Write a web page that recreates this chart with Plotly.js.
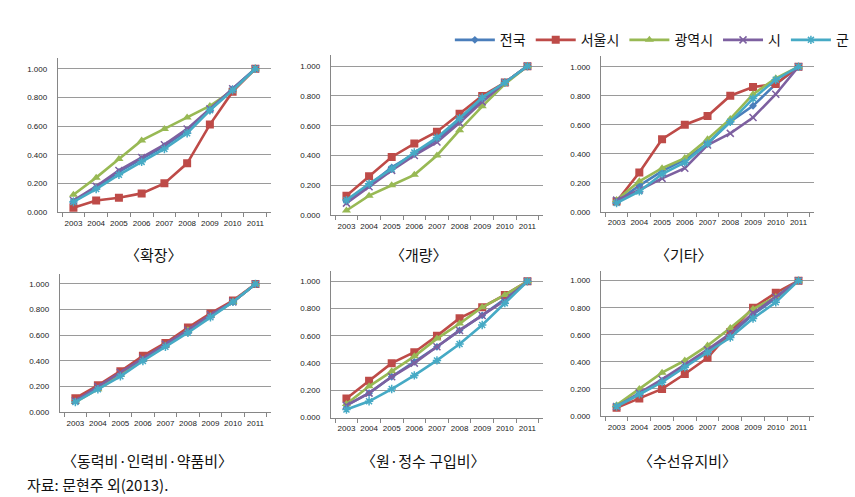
<!DOCTYPE html>
<html>
<head>
<meta charset="utf-8">
<script src="https://cdn.plot.ly/plotly-3.0.1.min.js"></script>
<style>html,body{margin:0;padding:0;background:#fff;}#chart{width:855px;height:497px;}</style>
</head>
<body>
<div id="chart"></div>
<script>
// ---- DATA ----
const years = ['2003','2004','2005','2006','2007','2008','2009','2010','2011'];
const seriesNames = ['전국','서울시','광역시','시','군'];
const panelTitles = ['〈확장〉','〈개량〉','〈기타〉','〈동력비·인력비·약품비〉','〈원·정수 구입비〉','〈수선유지비〉'];
const yTicks = [0, 0.2, 0.4, 0.6, 0.8, 1.0];

// each panel: rows in order of seriesNames (전국, 서울시, 광역시, 시, 군)
const expansion = [
  [0.075, 0.17, 0.28, 0.37, 0.46, 0.57, 0.71, 0.86, 1.0],
  [0.03, 0.08, 0.10, 0.13, 0.20, 0.34, 0.61, 0.84, 1.0],
  [0.12, 0.24, 0.37, 0.50, 0.58, 0.66, 0.74, 0.85, 1.0],
  [0.08, 0.18, 0.29, 0.38, 0.47, 0.58, 0.72, 0.86, 1.0],
  [0.07, 0.16, 0.26, 0.35, 0.44, 0.55, 0.71, 0.85, 1.0]
];
const improvement = [
  [0.09, 0.20, 0.32, 0.41, 0.51, 0.63, 0.78, 0.89, 1.0],
  [0.13, 0.26, 0.39, 0.48, 0.56, 0.68, 0.80, 0.89, 1.0],
  [0.03, 0.13, 0.20, 0.27, 0.40, 0.57, 0.73, 0.88, 1.0],
  [0.08, 0.19, 0.30, 0.40, 0.49, 0.62, 0.76, 0.89, 1.0],
  [0.10, 0.21, 0.31, 0.42, 0.52, 0.65, 0.79, 0.89, 1.0]
];
const others = [
  [0.07, 0.18, 0.28, 0.36, 0.47, 0.62, 0.73, 0.88, 1.0],
  [0.07, 0.27, 0.50, 0.60, 0.66, 0.80, 0.86, 0.88, 1.0],
  [0.08, 0.21, 0.30, 0.37, 0.50, 0.64, 0.81, 0.92, 1.0],
  [0.08, 0.15, 0.23, 0.30, 0.46, 0.54, 0.65, 0.81, 1.0],
  [0.06, 0.14, 0.26, 0.34, 0.47, 0.62, 0.78, 0.91, 1.0]
];
const powerLabor = [
  [0.09, 0.19, 0.30, 0.41, 0.52, 0.63, 0.75, 0.86, 1.0],
  [0.11, 0.21, 0.32, 0.44, 0.54, 0.66, 0.77, 0.87, 1.0],
  [0.08, 0.18, 0.29, 0.41, 0.52, 0.64, 0.75, 0.86, 1.0],
  [0.09, 0.20, 0.31, 0.42, 0.53, 0.64, 0.76, 0.86, 1.0],
  [0.08, 0.18, 0.28, 0.40, 0.51, 0.62, 0.74, 0.86, 1.0]
];
const purchase = [
  [0.09, 0.18, 0.30, 0.41, 0.52, 0.64, 0.75, 0.87, 1.0],
  [0.14, 0.27, 0.40, 0.48, 0.60, 0.73, 0.81, 0.90, 1.0],
  [0.10, 0.23, 0.34, 0.45, 0.58, 0.69, 0.81, 0.90, 1.0],
  [0.09, 0.18, 0.30, 0.40, 0.52, 0.64, 0.75, 0.86, 1.0],
  [0.06, 0.12, 0.21, 0.31, 0.42, 0.54, 0.68, 0.84, 1.0]
];
const maintenance = [
  [0.07, 0.16, 0.26, 0.37, 0.48, 0.60, 0.75, 0.87, 1.0],
  [0.06, 0.13, 0.20, 0.31, 0.43, 0.62, 0.80, 0.91, 1.0],
  [0.08, 0.20, 0.32, 0.41, 0.52, 0.65, 0.79, 0.88, 1.0],
  [0.07, 0.17, 0.27, 0.38, 0.49, 0.61, 0.76, 0.88, 1.0],
  [0.07, 0.16, 0.25, 0.36, 0.47, 0.58, 0.72, 0.84, 1.0]
];
const panels = [expansion, improvement, others, powerLabor, purchase, maintenance];

// ---- STYLE ----
const colors = ['#4A7EBB', '#BE4B48', '#98B954', '#7D60A0', '#46AAC5'];
const symbols = ['diamond', 'square', 'triangle-up', 'x-thin-open', 'asterisk-open'];
const sizes = [6, 8, 8, 7, 7];
const xDomains = [[0.0678, 0.3181], [0.3883, 0.6374], [0.7053, 0.9556], [0.0702, 0.3181], [0.3883, 0.6374], [0.7053, 0.9556]];
const yDomains = [[0.5734, 0.8833], [0.5674, 0.8893], [0.5740, 0.8877], [0.1704, 0.4481], [0.1596, 0.4545], [0.1630, 0.4557]];
const captionPos = [[155, 254], [420, 254], [686, 254], [148, 460], [425, 460], [690, 460]];

const traces = [];
panels.forEach((panel, p) => {
  const sfx = p === 0 ? '' : String(p + 1);
  panel.forEach((vals, s) => {
    const open = symbols[s].indexOf('open') >= 0;
    traces.push({
      type: 'scatter', mode: 'lines+markers',
      x: years, y: vals, name: seriesNames[s],
      xaxis: 'x' + sfx, yaxis: 'y' + sfx,
      showlegend: p === 0, legendgroup: seriesNames[s],
      line: {color: colors[s], width: 2.6},
      marker: {symbol: symbols[s], size: sizes[s], color: colors[s],
               line: {color: colors[s], width: open ? 1.5 : 0}},
      hoverinfo: 'x+y+name'
    });
  });
});

const layout = {
  width: 855, height: 497,
  margin: {l: 0, r: 0, t: 0, b: 0},
  paper_bgcolor: '#ffffff', plot_bgcolor: '#ffffff',
  font: {family: 'Liberation Sans, Arial, sans-serif', size: 8, color: '#222'},
  showlegend: true,
  legend: {orientation: 'h', x: 0.528, xanchor: 'left', y: 0.919, yanchor: 'middle',
           font: {family: 'Noto Sans CJK KR, sans-serif', size: 14, color: '#111'},
           itemwidth: 40, tracegroupgap: 0, bgcolor: 'rgba(0,0,0,0)'},
  annotations: [],
  shapes: []
};

panels.forEach((panel, p) => {
  const sfx = p === 0 ? '' : String(p + 1);
  layout['xaxis' + sfx] = {
    domain: xDomains[p], anchor: 'y' + sfx, type: 'category',
    showline: true, linecolor: '#868686', linewidth: 1,
    ticks: 'outside', tickson: 'boundaries', ticklen: 4, tickcolor: '#868686',
    showgrid: false, zeroline: false, fixedrange: true, tickangle: 0,
    tickfont: {size: 8, color: '#222'}, ticklabelstandoff: 3
  };
  layout['yaxis' + sfx] = {
    domain: yDomains[p], anchor: 'x' + sfx, range: [0, 1.075],
    tickvals: yTicks, tickformat: '.3f',
    showline: true, linecolor: '#868686', linewidth: 1,
    ticks: '', showgrid: true, gridcolor: '#9a9a9a', gridwidth: 1,
    zeroline: false, fixedrange: true,
    tickfont: {size: 8, color: '#222'}, ticklabelstandoff: 8
  };
  layout.annotations.push({
    text: panelTitles[p], xref: 'paper', yref: 'paper',
    x: captionPos[p][0] / 855, y: 1 - captionPos[p][1] / 497,
    xanchor: 'center', yanchor: 'middle', showarrow: false,
    font: {family: 'Noto Sans CJK KR, sans-serif', size: 15, color: '#111'}
  });
});

layout.annotations.push({
  text: '자료: 문현주 외(2013).', xref: 'paper', yref: 'paper',
  x: 25 / 855, y: 1 - 484 / 497, xanchor: 'left', yanchor: 'middle', showarrow: false,
  font: {family: 'Noto Sans CJK KR, sans-serif', size: 15, color: '#111'}
});

Plotly.newPlot('chart', traces, layout, {displayModeBar: false, staticPlot: true});
</script>
</body>
</html>
